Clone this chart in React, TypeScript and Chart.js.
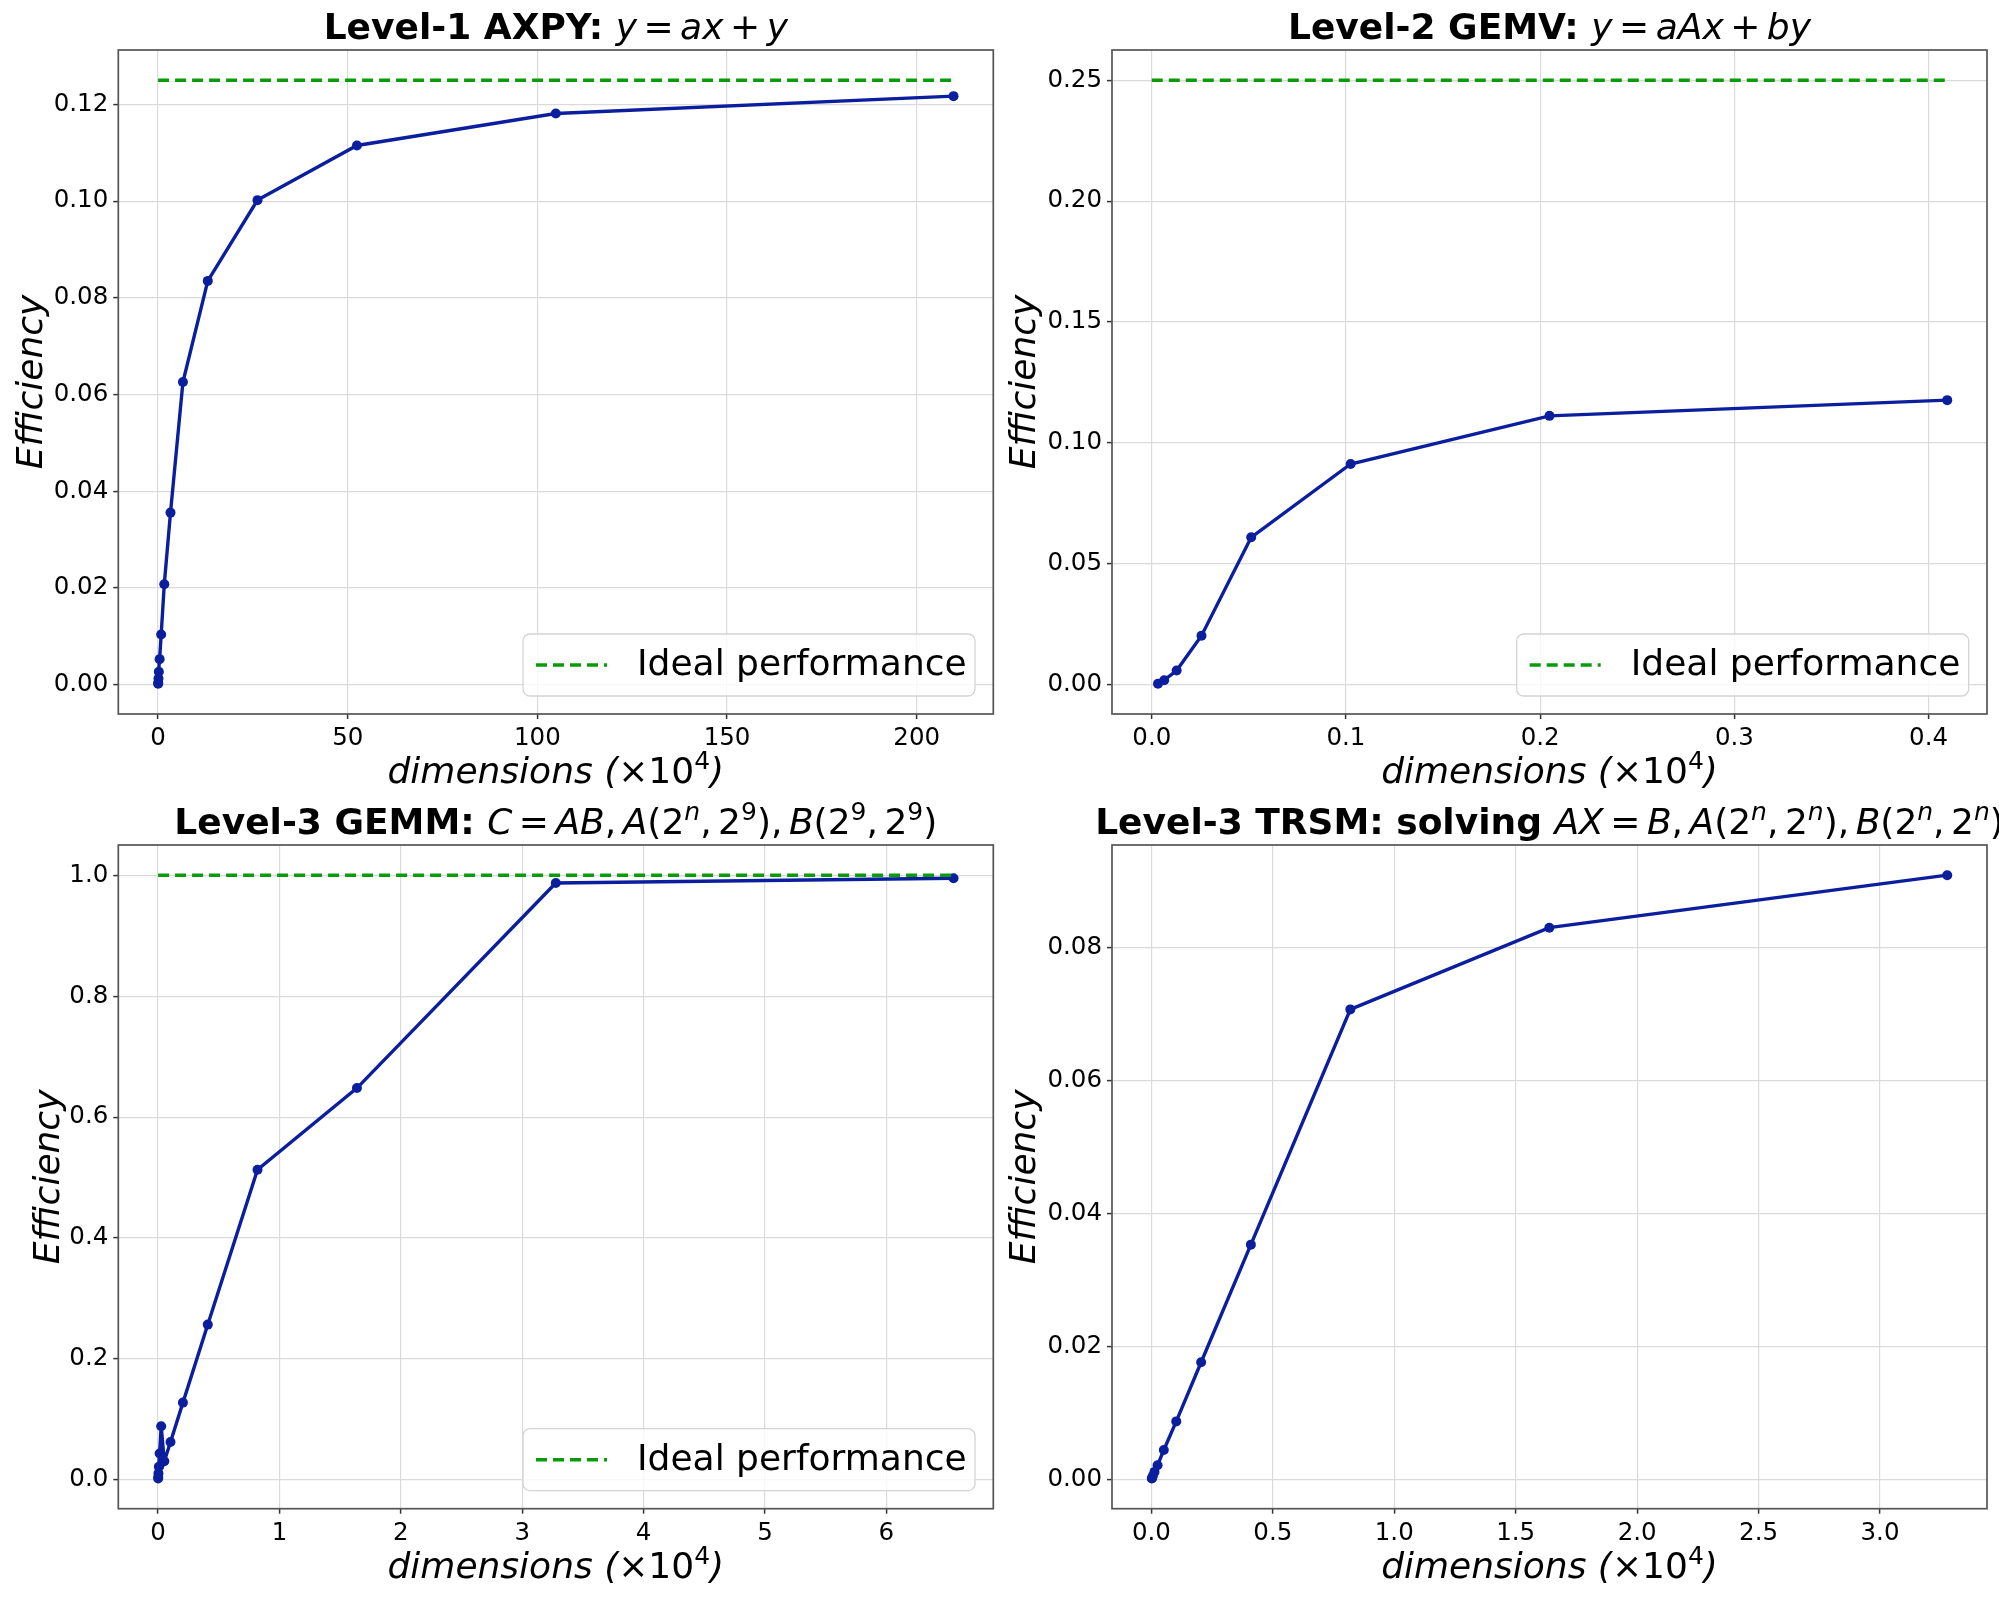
import React, { useEffect, useRef } from 'react';
import { Chart, registerables } from 'chart.js';
Chart.register(...registerables);

// ---------------- data ----------------
const AXPY_DIMS = [0.0256, 0.0512, 0.1024, 0.2048, 0.4096, 0.8192, 1.6384, 3.2768, 6.5536, 13.1072, 26.2144, 52.4288, 104.8576, 209.7152];
const AXPY_EFF = [0.0002, 0.0004, 0.0013, 0.0027, 0.0053, 0.0104, 0.0208, 0.0356, 0.0626, 0.0835, 0.1002, 0.1115, 0.1181, 0.1217];
const AXPY_IDEAL = 0.125;
const AXPY_XTICKS = [0, 50, 100, 150, 200];
const AXPY_YTICKS = [0, 0.02, 0.04, 0.06, 0.08, 0.1, 0.12];

const GEMV_DIMS = [0.0032, 0.0064, 0.0128, 0.0256, 0.0512, 0.1024, 0.2048, 0.4096];
const GEMV_EFF = [0.0004, 0.0019, 0.0059, 0.0203, 0.061, 0.0913, 0.1112, 0.1177];
const GEMV_IDEAL = 0.25;
const GEMV_XTICKS = [0, 0.1, 0.2, 0.3, 0.4];
const GEMV_YTICKS = [0, 0.05, 0.1, 0.15, 0.2, 0.25];

const GEMM_DIMS = [0.0008, 0.0016, 0.0032, 0.0064, 0.0128, 0.0256, 0.0512, 0.1024, 0.2048, 0.4096, 0.8192, 1.6384, 3.2768, 6.5536];
const GEMM_EFF = [0.0025, 0.005, 0.011, 0.022, 0.044, 0.089, 0.031, 0.063, 0.128, 0.257, 0.513, 0.648, 0.987, 0.995];
const GEMM_IDEAL = 1.0;
const GEMM_XTICKS = [0, 1, 2, 3, 4, 5, 6];
const GEMM_YTICKS = [0, 0.2, 0.4, 0.6, 0.8, 1.0];

const TRSM_DIMS = [0.0016, 0.0032, 0.0064, 0.0128, 0.0256, 0.0512, 0.1024, 0.2048, 0.4096, 0.8192, 1.6384, 3.2768];
const TRSM_EFF = [0.0001, 0.0002, 0.0005, 0.0011, 0.0021, 0.0044, 0.0087, 0.0176, 0.0353, 0.0707, 0.083, 0.0909];
const TRSM_XTICKS = [0, 0.5, 1.0, 1.5, 2.0, 2.5, 3.0];
const TRSM_YTICKS = [0, 0.02, 0.04, 0.06, 0.08];

const LEGEND_LABEL = 'Ideal performance';

// ---------------- styles ----------------
const FAMILY = "'DejaVu Sans', 'Noto Sans', sans-serif";
const BLUE = '#0b1f9e';
const GREEN = '#0a9a0a';
const GRID = '#dadada';
const SPINE = '#555555';
const FS = 36;
const SUP = 25;
const TICK_FS = 24.5;
const OP_GAP = 6.5;
const COMMA_GAP = 6.5;

type Seg = [string, string]; // text, kind: b | i | r | si | sr | g (gap px)

function fontFor(kind: string): string {
  switch (kind) {
    case 'b': return `bold ${FS}px ${FAMILY}`;
    case 'i': return `italic ${FS}px ${FAMILY}`;
    case 'si': return `italic ${SUP}px ${FAMILY}`;
    case 'sr': return `${SUP}px ${FAMILY}`;
    default: return `${FS}px ${FAMILY}`;
  }
}

function segWidth(ctx: CanvasRenderingContext2D, s: Seg): number {
  if (s[1] === 'g') return parseFloat(s[0]);
  ctx.font = fontFor(s[1]);
  return ctx.measureText(s[0]).width;
}

function drawSegs(ctx: CanvasRenderingContext2D, segs: Seg[], cx: number, baseline: number) {
  let total = 0;
  for (const s of segs) total += segWidth(ctx, s);
  let x = cx - total / 2;
  ctx.textAlign = 'left';
  ctx.textBaseline = 'alphabetic';
  ctx.fillStyle = '#000';
  for (const s of segs) {
    const w = segWidth(ctx, s);
    if (s[1] !== 'g') {
      ctx.font = fontFor(s[1]);
      const dy = s[1] === 'si' || s[1] === 'sr' ? -14 : 0;
      ctx.fillText(s[0], x, baseline + dy);
    }
    x += w;
  }
}

const op = (t: string): Seg[] => [[String(OP_GAP), 'g'], [t, 'r'], [String(OP_GAP), 'g']];
const comma = (): Seg[] => [[',', 'r'], [String(COMMA_GAP), 'g']];

const XLABEL: Seg[] = [['dimensions (', 'i'], ['×10', 'r'], ['4', 'sr'], [')', 'i']];
const YLABEL: Seg[] = [['Efficiency', 'i']];

interface PanelSpec {
  left: number; top: number; width: number; height: number;
  area: { l: number; t: number; r: number; b: number };
  xs: number[]; ys: number[]; ideal?: number;
  xTicks: number[]; yTicks: number[]; xDec: number; yDec: number;
  title: Seg[]; ylabOff: number;
}

const pair = (a: Seg, b: Seg): Seg[] => [['(2', 'r'], a, ...comma(), ['2', 'r'], b, [')', 'r']];

const PANELS: PanelSpec[] = [
  {
    left: 0, top: 0, width: 1000, height: 800,
    area: { l: 118.3, t: 50, r: 993.3, b: 714 },
    xs: AXPY_DIMS, ys: AXPY_EFF, ideal: AXPY_IDEAL,
    xTicks: AXPY_XTICKS, yTicks: AXPY_YTICKS, xDec: 0, yDec: 2,
    title: [['Level-1 AXPY: ', 'b'], ['y', 'i'], ...op('='), ['ax', 'i'], ...op('+'), ['y', 'i']],
    ylabOff: 76.5,
  },
  {
    left: 1000, top: 0, width: 999, height: 800,
    area: { l: 112, t: 50, r: 987, b: 714 },
    xs: GEMV_DIMS, ys: GEMV_EFF, ideal: GEMV_IDEAL,
    xTicks: GEMV_XTICKS, yTicks: GEMV_YTICKS, xDec: 1, yDec: 2,
    title: [['Level-2 GEMV: ', 'b'], ['y', 'i'], ...op('='), ['aAx', 'i'], ...op('+'), ['by', 'i']],
    ylabOff: 77,
  },
  {
    left: 0, top: 800, width: 1000, height: 799,
    area: { l: 118.3, t: 45, r: 993.3, b: 708.7 },
    xs: GEMM_DIMS, ys: GEMM_EFF, ideal: GEMM_IDEAL,
    xTicks: GEMM_XTICKS, yTicks: GEMM_YTICKS, xDec: 0, yDec: 1,
    title: [
      ['Level-3 GEMM: ', 'b'], ['C', 'i'], ...op('='), ['AB', 'i'], ...comma(),
      ['A', 'i'], ...pair(['n', 'si'], ['9', 'sr']), ...comma(),
      ['B', 'i'], ...pair(['9', 'sr'], ['9', 'sr']),
    ],
    ylabOff: 59,
  },
  {
    left: 1000, top: 800, width: 999, height: 799,
    area: { l: 112, t: 45, r: 987, b: 708.7 },
    xs: TRSM_DIMS, ys: TRSM_EFF,
    xTicks: TRSM_XTICKS, yTicks: TRSM_YTICKS, xDec: 1, yDec: 2,
    title: [
      ['Level-3 TRSM: solving ', 'b'], ['AX', 'i'], ...op('='), ['B', 'i'], ...comma(),
      ['A', 'i'], ...pair(['n', 'si'], ['n', 'si']), ...comma(),
      ['B', 'i'], ...pair(['n', 'si'], ['n', 'si']),
    ],
    ylabOff: 77,
  },
];

const XAXIS_H = 60;

function buildChart(canvas: HTMLCanvasElement, p: PanelSpec): Chart {
  const xsAll = p.ideal !== undefined ? [0, ...p.xs] : p.xs;
  const ysAll = p.ideal !== undefined ? [p.ideal, ...p.ys] : p.ys;
  const xMinD = Math.min(...xsAll), xMaxD = Math.max(...xsAll);
  const yMinD = Math.min(...ysAll), yMaxD = Math.max(...ysAll);
  const xPad = (xMaxD - xMinD) * 0.05, yPad = (yMaxD - yMinD) * 0.05;

  const datasets: any[] = [
    {
      label: 'measured',
      data: p.xs.map((x, i) => ({ x, y: p.ys[i] })),
      borderColor: BLUE, backgroundColor: BLUE,
      borderWidth: 3.4, pointRadius: 5, pointBorderWidth: 0,
      showLine: true, tension: 0, order: 1,
    },
  ];
  if (p.ideal !== undefined) {
    datasets.push({
      label: LEGEND_LABEL,
      data: [{ x: 0, y: p.ideal }, { x: Math.max(...p.xs), y: p.ideal }],
      borderColor: GREEN, backgroundColor: GREEN,
      borderWidth: 3.5, borderDash: [11, 6], pointRadius: 0,
      showLine: true, tension: 0, order: 0,
    });
  }

  const a = p.area;
  const decor = {
    id: 'decor',
    afterDatasetsDraw(chart: any) {
      const { ctx, chartArea: ca } = chart;
      ctx.save();
      ctx.strokeStyle = SPINE;
      ctx.lineWidth = 1.7;
      ctx.strokeRect(ca.left, ca.top, ca.right - ca.left, ca.bottom - ca.top);
      ctx.restore();
    },
    afterDraw(chart: any) {
      const { ctx, chartArea: ca } = chart;
      ctx.save();
      const cx = (ca.left + ca.right) / 2;
      const cy = (ca.top + ca.bottom) / 2;
      drawSegs(ctx, p.title, cx, ca.top - 11.5);
      drawSegs(ctx, XLABEL, cx, ca.bottom + 69);
      ctx.save();
      ctx.translate(ca.left - p.ylabOff, cy);
      ctx.rotate(-Math.PI / 2);
      drawSegs(ctx, YLABEL, 0, 0);
      ctx.restore();
      if (p.ideal !== undefined) {
        const w = 452, h = 62;
        const bx = ca.right - 18.3 - w;
        const by = ca.bottom - 18 - h;
        ctx.beginPath();
        (ctx as any).roundRect(bx, by, w, h, 7);
        ctx.fillStyle = 'rgba(255,255,255,0.8)';
        ctx.fill();
        ctx.strokeStyle = '#d4d4d4';
        ctx.lineWidth = 1.3;
        ctx.stroke();
        const my = by + h / 2;
        ctx.beginPath();
        ctx.setLineDash([11, 6]);
        ctx.strokeStyle = GREEN;
        ctx.lineWidth = 3.5;
        ctx.moveTo(bx + 13, my);
        ctx.lineTo(bx + 84, my);
        ctx.stroke();
        ctx.setLineDash([]);
        ctx.font = `${FS}px ${FAMILY}`;
        ctx.fillStyle = '#000';
        ctx.textAlign = 'left';
        ctx.textBaseline = 'alphabetic';
        ctx.fillText(LEGEND_LABEL, bx + 114, my + 10);
      }
      ctx.restore();
    },
  };

  const tickFont = { family: FAMILY, size: TICK_FS };
  const gridOpts = { color: GRID, lineWidth: 1.2, tickColor: '#333333', tickLength: 5, tickWidth: 1.5, drawTicks: true };

  return new Chart(canvas, {
    type: 'scatter',
    data: { datasets },
    plugins: [decor],
    options: {
      responsive: false,
      animation: false,
      devicePixelRatio: 1,
      layout: {
        autoPadding: false,
        padding: { left: 0, top: a.t, right: p.width - a.r, bottom: p.height - a.b - XAXIS_H },
      },
      plugins: { legend: { display: false }, tooltip: { enabled: false }, title: { display: false } },
      scales: {
        x: {
          type: 'linear',
          min: xMinD - xPad,
          max: xMaxD + xPad,
          afterFit: (s: any) => { s.height = XAXIS_H; },
          afterBuildTicks: (s: any) => { s.ticks = p.xTicks.map((v) => ({ value: v })); },
          ticks: {
            font: tickFont, color: '#000', padding: 5, maxRotation: 0, minRotation: 0, autoSkip: false,
            callback: (v: any) => Number(v).toFixed(p.xDec),
          },
          grid: gridOpts,
          border: { display: false },
        },
        y: {
          type: 'linear',
          min: yMinD - yPad,
          max: yMaxD + yPad,
          afterFit: (s: any) => { s.width = a.l; },
          afterBuildTicks: (s: any) => { s.ticks = p.yTicks.map((v) => ({ value: v })); },
          ticks: {
            font: tickFont, color: '#000', padding: 5, autoSkip: false,
            callback: (v: any) => Number(v).toFixed(p.yDec),
          },
          grid: gridOpts,
          border: { display: false },
        },
      },
    } as any,
  });
}

function Panel({ spec }: { spec: PanelSpec }) {
  const ref = useRef<HTMLCanvasElement | null>(null);
  useEffect(() => {
    if (!ref.current) return;
    const chart = buildChart(ref.current, spec);
    return () => chart.destroy();
  }, [spec]);
  return (
    <canvas
      ref={ref}
      width={spec.width}
      height={spec.height}
      style={{ position: 'absolute', left: spec.left, top: spec.top, width: spec.width, height: spec.height }}
    />
  );
}

export default function App() {
  return (
    <div style={{ position: 'absolute', left: 0, top: 0, width: 1999, height: 1599, background: '#fff', overflow: 'hidden' }}>
      {PANELS.map((p, i) => (
        <Panel key={i} spec={p} />
      ))}
    </div>
  );
}
